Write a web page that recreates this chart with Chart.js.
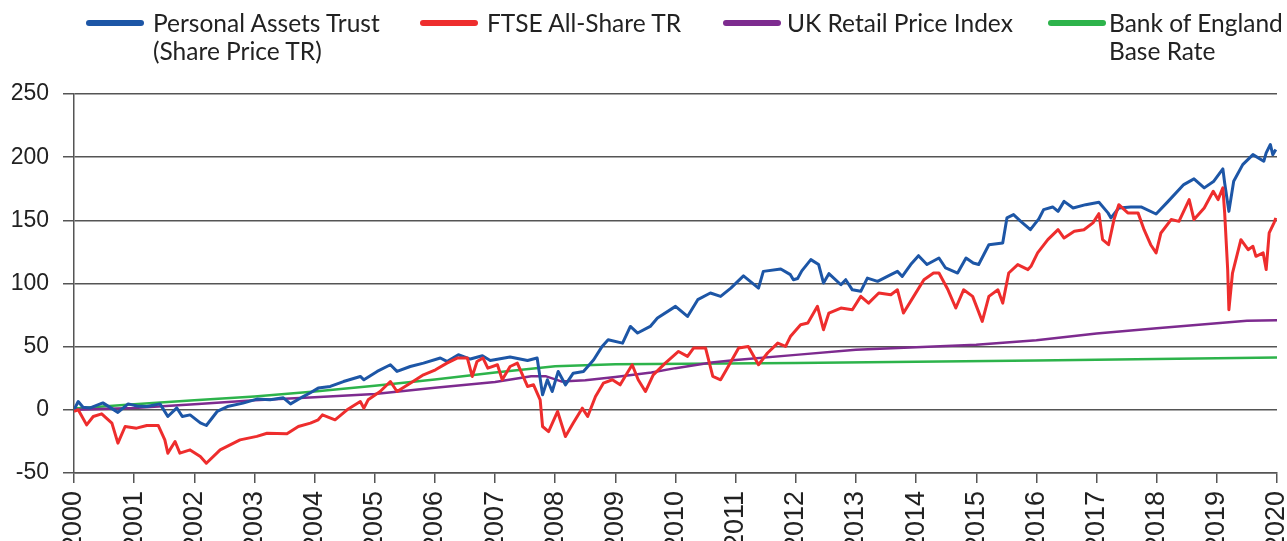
<!DOCTYPE html>
<html>
<head>
<meta charset="utf-8">
<script src="https://cdn.jsdelivr.net/npm/chart.js@4.4.1/dist/chart.umd.min.js"></script>
<style>
  html, body { margin: 0; padding: 0; background: #fff; }
  #wrap { position: relative; width: 1287px; height: 541px; overflow: hidden; }
  .lg { position: absolute; top: 9px; font-family: Lato, "Noto Sans", sans-serif; font-size: 24.5px; line-height: 28px; color: #222; white-space: nowrap; }
  .lg .sw { position: absolute; top: 11px; height: 6px; border-radius: 3px; }
</style>
</head>
<body>
<div id="wrap">
  <canvas id="c" width="1287" height="541"></canvas>
  <div id="legend"></div>
</div>
<script>
// year ticks
const years = [2000,2001,2002,2003,2004,2005,2006,2007,2008,2009,2010,2011,2012,2013,2014,2015,2016,2017,2018,2019,2020];
const yTicks = [-50,0,50,100,150,200,250];

// [year, value]
const patData = [
  [2000.00,0],[2000.07,6.6],[2000.15,2],[2000.27,1.5],[2000.48,5.5],[2000.73,-2],[2000.9,4.7],[2001.05,3],
  [2001.21,2.6],[2001.43,4.7],[2001.56,-5.3],[2001.71,1.5],[2001.8,-5.3],[2001.93,-4],[2002.1,-10.3],[2002.2,-12.4],
  [2002.38,-1.3],[2002.55,2.6],[2002.81,5.3],[2003.04,8.5],[2003.26,7.9],[2003.48,9.5],[2003.6,4.7],[2003.81,10.5],
  [2003.93,13.5],[2004.06,17.2],[2004.26,18.5],[2004.48,22.4],[2004.76,26.4],[2004.82,23.8],[2005.04,30.4],[2005.26,35.7],
  [2005.37,30.4],[2005.59,34.3],[2005.81,37],[2006.09,41],[2006.2,38.3],[2006.39,43.6],[2006.59,40.2],[2006.79,42.8],
  [2006.92,39],[2007.25,41.8],[2007.54,39],[2007.7,41],[2007.79,11.9],[2007.87,23.8],[2007.95,14.5],[2008.05,30.4],
  [2008.17,19.8],[2008.3,29],[2008.47,30.4],[2008.64,39.6],[2008.78,50.2],[2008.88,55.5],[2009.12,52.8],[2009.25,66],
  [2009.37,60.8],[2009.58,66],[2009.7,72.7],[2010.0,81.9],[2010.2,73.9],[2010.37,87.2],[2010.58,92.5],[2010.75,89.8],
  [2010.92,96.4],[2011.13,106],[2011.38,96.4],[2011.46,109.6],[2011.75,111.5],[2011.91,107],[2011.96,103],[2012.03,104],
  [2012.1,110],[2012.25,118.9],[2012.38,115],[2012.46,100.4],[2012.55,107.8],[2012.75,99],[2012.83,103],[2012.94,95],
  [2013.08,93.8],[2013.19,104.3],[2013.36,101.7],[2013.58,107],[2013.69,109.6],[2013.77,105.6],[2013.91,115],[2014.04,122],
  [2014.18,115],[2014.38,120.2],[2014.49,112.3],[2014.69,108.3],[2014.83,120.2],[2014.95,116.2],[2015.04,115],[2015.21,130.7],
  [2015.44,132],[2015.51,151.9],[2015.62,154.5],[2015.74,149.2],[2015.9,142.6],[2016.04,151.1],[2016.12,158.5],[2016.27,160.6],
  [2016.36,157.1],[2016.46,165],[2016.61,159.8],[2016.82,162.4],[2017.04,164.3],[2017.19,155.9],[2017.24,151.9],[2017.37,159.8],
  [2017.57,160.6],[2017.74,160.6],[2017.99,155],[2018.19,165],[2018.45,178.3],[2018.62,182.8],[2018.79,175.7],[2018.95,181],
  [2019.1,190.7],[2019.13,179.6],[2019.2,157.1],[2019.28,181],[2019.43,194.1],[2019.6,202],[2019.78,196.8],[2019.82,203.4],
  [2019.89,210],[2019.93,202],[2019.98,206]
];
const ftseData = [
  [2000,-1.3],[2000.07,0],[2000.21,-11.9],[2000.32,-5.3],[2000.46,-3.2],[2000.63,-10.5],[2000.73,-26.4],[2000.85,-13.2],
  [2001.04,-14.5],[2001.21,-12.4],[2001.4,-12.4],[2001.51,-23.8],[2001.56,-34.3],[2001.68,-25.1],[2001.76,-34.3],[2001.93,-31.7],
  [2002.1,-37],[2002.2,-42.3],[2002.43,-31.7],[2002.76,-23.8],[2003.04,-21],[2003.21,-18.5],[2003.54,-19],[2003.73,-13.2],
  [2003.93,-10.5],[2004.06,-7.9],[2004.13,-4],[2004.34,-7.9],[2004.54,0],[2004.76,6.6],[2004.82,1.3],[2004.89,7.9],
  [2005.09,14.5],[2005.26,22.4],[2005.37,14.5],[2005.59,21.1],[2005.81,27.7],[2006.01,31.7],[2006.2,37],[2006.37,41],
  [2006.54,41],[2006.62,26.4],[2006.7,38.3],[2006.8,41],[2006.88,33],[2007.04,35.7],[2007.12,23.8],[2007.25,34.3],
  [2007.37,37],[2007.54,18.5],[2007.64,19.8],[2007.75,7.9],[2007.79,-13.2],[2007.89,-17.2],[2008.04,-1.3],[2008.17,-21.1],
  [2008.3,-10.5],[2008.45,1.3],[2008.54,-5.3],[2008.67,10.5],[2008.8,21.1],[2008.95,23.8],[2009.08,19.8],[2009.28,35.7],
  [2009.38,23.8],[2009.5,14.5],[2009.63,27.7],[2009.83,37],[2010.05,46.2],[2010.2,42.3],[2010.3,48.9],[2010.5,48.9],
  [2010.62,26.4],[2010.75,23.8],[2010.86,33],[2011.05,48.9],[2011.21,50.2],[2011.38,35.7],[2011.53,45],[2011.7,52.8],
  [2011.83,50.2],[2011.91,58],[2012.08,67.4],[2012.2,68.7],[2012.36,81.9],[2012.46,63.4],[2012.55,76.6],[2012.75,80.6],
  [2012.94,79.2],[2013.08,89.8],[2013.21,84.5],[2013.38,92.5],[2013.58,91.1],[2013.69,95],[2013.79,76.6],[2013.96,89.8],
  [2014.13,103],[2014.29,108.3],[2014.38,108.3],[2014.53,95],[2014.66,80.6],[2014.79,95],[2014.94,89.8],[2015.1,70],
  [2015.21,89.8],[2015.36,95],[2015.44,84.5],[2015.54,108.3],[2015.69,115],[2015.86,111],[2015.91,113.6],[2016.02,124.2],
  [2016.19,134.7],[2016.36,142.6],[2016.46,136],[2016.63,141.3],[2016.79,142.6],[2016.94,148],[2017.04,155.3],[2017.1,134.7],
  [2017.2,130.7],[2017.29,150.6],[2017.37,162.4],[2017.52,155.9],[2017.69,155.9],[2017.79,142.6],[2017.9,130.7],[2017.99,124.2],
  [2018.07,140],[2018.24,150.6],[2018.37,149.2],[2018.54,166.4],[2018.62,150.6],[2018.79,159.8],[2018.94,173],[2019.02,166.4],
  [2019.1,175.7],[2019.13,155.9],[2019.18,111],[2019.2,79.2],[2019.26,108.3],[2019.4,134.7],[2019.52,126.8],[2019.6,129.4],
  [2019.65,121.5],[2019.77,124.2],[2019.82,111],[2019.87,140],[2019.95,148],[2019.98,151.9]
];
const rpiData = [
  [2000,0],[2001,1.5],[2002,4.5],[2003,7.5],[2004,10],[2005,12.5],[2006,17.5],[2007,22],[2007.6,26.5],[2007.85,26.5],
  [2008.1,22.5],[2008.5,23.5],[2009,26],[2009.6,29.5],[2010,33],[2010.6,37.5],[2011,39.5],[2012,43.5],[2013,47.5],
  [2014,49.5],[2015,51.5],[2016,55],[2017,60.5],[2018,64.5],[2019,68.5],[2019.5,70.5],[2020,71]
];
const boeData = [
  [2000,1],[2001,4.5],[2002,7.5],[2003,10.5],[2004,14.5],[2005,19],[2006,24],[2007,29.5],[2008,34.5],
  [2009,36],[2012,37],[2016,39],[2020,41.5]
];

const series = [
  { name: ['Personal Assets Trust', '(Share Price TR)'], data: patData, color: '#1d56a6', width: 3, order: 2, lx: 86, tx: 153 },
  { name: ['FTSE All-Share TR'], data: ftseData, color: '#ee2d2d', width: 3, order: 1, lx: 420, tx: 487 },
  { name: ['UK Retail Price Index'], data: rpiData, color: '#7d2b8f', width: 2.5, order: 3, lx: 723, tx: 787 },
  { name: ['Bank of England', 'Base Rate'], data: boeData, color: '#2db34b', width: 2.5, order: 4, lx: 1048, tx: 1109 },
];

// html legend (labels wrap onto two lines like the original)
const legend = document.getElementById('legend');
legend.innerHTML = series.map(s => `
  <div class="lg" style="left:${s.lx}px">
    <div class="sw" style="left:0;width:58px;background:${s.color}"></div>
    <div style="margin-left:${s.tx - s.lx}px">${s.name.join('<br>')}</div>
  </div>`).join('');

const axisColor = '#555';

new Chart(document.getElementById('c'), {
  type: 'line',
  data: {
    datasets: series.map(s => ({
      label: s.name.join(' '),
      data: s.data.map(p => ({ x: p[0], y: p[1] })),
      borderColor: s.color,
      borderWidth: s.width,
      pointRadius: 0,
      tension: 0,
      fill: false,
      order: s.order,
      borderJoinStyle: 'round',
    }))
  },
  options: {
    responsive: false,
    animation: false,
    devicePixelRatio: 1,
    layout: { padding: { top: 94, right: 10, left: 0, bottom: 0 } },
    plugins: { legend: { display: false }, tooltip: { enabled: false } },
    scales: {
      x: {
        type: 'linear',
        min: years[0], max: years[years.length - 1],
        // fixed axis band; labels may run off the bottom like the original
        afterFit: s => { s.height = 68; s.paddingLeft = 0; s.paddingRight = 0; },
        afterBuildTicks: s => { s.ticks = years.map(v => ({ value: v })); },
        ticks: {
          autoSkip: false, maxRotation: 90, minRotation: 90, padding: 8,
          color: '#222', font: { family: '"Liberation Sans", Arial, sans-serif', size: 27 },
          callback: v => String(v),
        },
        grid: { drawOnChartArea: false, drawTicks: true, tickLength: 10, color: axisColor, lineWidth: 1.5 },
        border: { color: axisColor, width: 1.5 },
      },
      y: {
        min: yTicks[0], max: yTicks[yTicks.length - 1],
        afterFit: s => { s.width = 74; s.paddingTop = 0; s.paddingBottom = 0; },
        afterBuildTicks: s => { s.ticks = yTicks.map(v => ({ value: v })); },
        ticks: {
          padding: 14, color: '#222',
          font: { family: '"Liberation Sans", Arial, sans-serif', size: 23 },
          callback: v => String(v),
        },
        grid: { color: axisColor, lineWidth: 1.5, tickLength: 11 },
        border: { color: axisColor, width: 1.5 },
      }
    }
  }
});
</script>
</body>
</html>
